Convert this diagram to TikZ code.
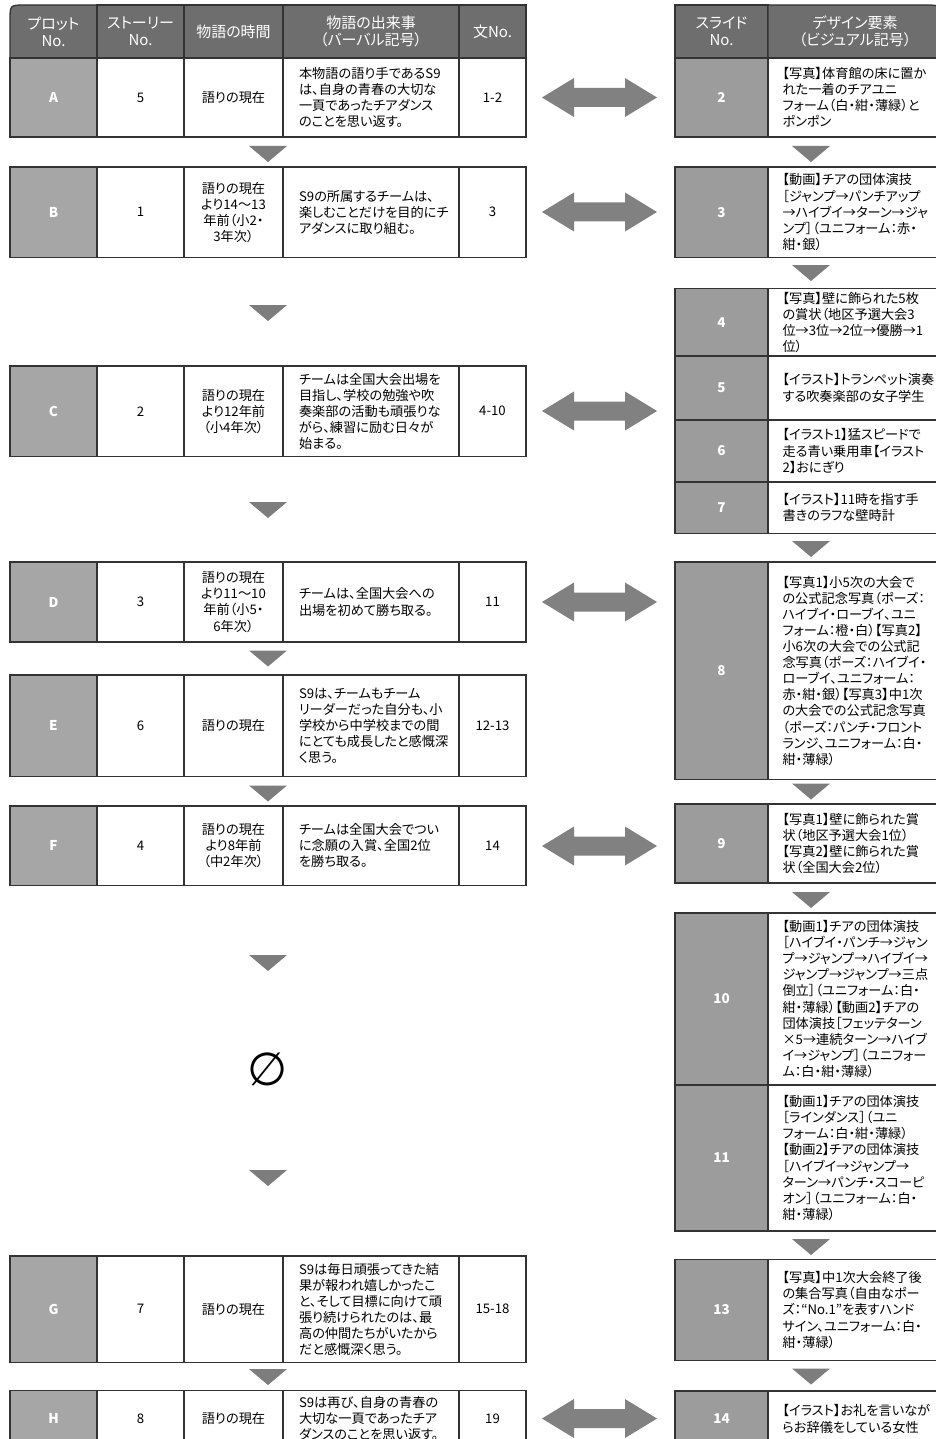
\documentclass[tikz,border=0pt]{standalone}
\usepackage{fontspec}
\setmainfont{Noto Sans CJK JP}[RawFeature=+palt]
\newfontfamily\symfont{DejaVu Sans}
\usetikzlibrary{calc}
\definecolor{hdr}{HTML}{6E6E6E}
\definecolor{plotc}{HTML}{A6A6A6}
\definecolor{slidec}{HTML}{9C9C9C}
\definecolor{tric}{HTML}{7D7D7D}
\definecolor{arrc}{HTML}{818181}
\definecolor{bord}{HTML}{333333}
\tikzset{
  cellbase/.style={draw=bord, line width=1.3pt, inner sep=0pt, outer sep=0pt, font=\fontsize{13.2}{16.1}\selectfont},
  hdrtext/.style={text=white, align=center, inner sep=0pt, font=\fontsize{15}{17}\selectfont},
  hdrcell/.style={cellbase, fill=hdr, hdrtext},
  hdrcorner/.style={fill=hdr, draw=bord, line width=1.3pt},
  plotcell/.style={cellbase, fill=plotc, text=white, font=\fontsize{13.5}{16}\selectfont\bfseries},
  slidecell/.style={cellbase, fill=slidec, text=white, font=\fontsize{13.5}{16}\selectfont\bfseries},
  txtcell/.style={cellbase, fill=white, align=center},
  evcell/.style={cellbase, fill=white, text width=144pt, align=left},
  dcell/.style={cellbase, fill=white, text width=143pt, align=left},
  tri/.style={fill=tric},
  dblarrow/.style={fill=arrc},
}
\newcommand\cellbox[7]{\node[#6, minimum width={#4pt-#2pt}, minimum height={#5pt-#3pt}] (#1) at ({(#2+#4)/2},{(#3+#5)/2}) {#7};}
\newcommand\leftrow[8]{%
  \cellbox{#1p}{10}{#2}{97}{#3}{plotcell}{#4}
  \cellbox{#1s}{97}{#2}{184}{#3}{txtcell}{#5}
  \cellbox{#1t}{184}{#2}{283}{#3}{txtcell}{#6}
  \cellbox{#1e}{283}{#2}{459}{#3}{evcell}{#7}
  \cellbox{#1n}{459}{#2}{526}{#3}{txtcell}{#8}}
\newcommand\rightrow[5]{%
  \cellbox{#1n}{675}{#2}{768}{#3}{slidecell}{#4}
  \cellbox{#1d}{768}{#2}{940}{#3}{dcell}{#5}}
\newcommand\downtri[3]{\coordinate (#1) at (#2,#3); \fill[tri] (#1) ++(-19,0) -- ++(38,0) -- ++(-19,16) -- cycle;}
\newcommand\lrarrow[3]{\coordinate (#1) at (#2,#3); \fill[dblarrow] (#1) ++(-57.5,0) -- ++(32,-19.5) -- ++(0,10) -- ++(51,0) -- ++(0,-10) -- ++(32,19.5) -- ++(-32,19.5) -- ++(0,-10) -- ++(-51,0) -- ++(0,10) -- cycle;}
\begin{document}
\begin{tikzpicture}[x=1pt,y=-1pt]
\fill[white] (0,0) rectangle (936,1439);
\useasboundingbox (0,0) rectangle (936,1439);
% left header
\filldraw[hdrcorner] (97,58) -- (10,58) -- (10,20) .. controls (10,5) .. (25,5) -- (97,5) -- cycle;
\node[hdrtext] (h1) at (53.5,31.5) {プロット\\No.};
\cellbox{h2}{97}{5}{184}{58}{hdrcell}{ストーリー\\No.}
\cellbox{h3}{184}{5}{283}{58}{hdrcell}{物語の時間}
\cellbox{h4}{283}{5}{459}{58}{hdrcell}{物語の出来事\\（バーバル記号）}
\cellbox{h5}{459}{5}{526}{58}{hdrcell}{文No.}
% right header
\cellbox{r1}{675}{5}{768}{58}{hdrcell}{スライド\\No.}
\filldraw[hdrcorner] (768,58) -- (768,5) -- (925,5) .. controls (940,5) .. (940,20) -- (940,58) -- cycle;
\node[hdrtext] (r2) at (855,31.5) {デザイン要素\\（ビジュアル記号）};
% left rows
\leftrow{A}{58}{137}{A}{5}{語りの現在}{本物語の語り手であるS9\\は、自身の青春の大切な\\一頁であったチアダンス\\のことを思い返す。}{1-2}
\leftrow{B}{167}{257.5}{B}{1}{語りの現在\\より14〜13\\年前（小2・\\3年次）}{S9の所属するチームは、\\楽しむことだけを目的にチ\\アダンスに取り組む。}{3}
\leftrow{C}{366}{456.5}{C}{2}{語りの現在\\より12年前\\（小4年次）}{チームは全国大会出場を\\目指し、学校の勉強や吹\\奏楽部の活動も頑張りな\\がら、練習に励む日々が\\始まる。}{4-10}
\leftrow{D}{562}{642}{D}{3}{語りの現在\\より11〜10\\年前（小5・\\6年次）}{チームは、全国大会への\\出場を初めて勝ち取る。}{11}
\leftrow{E}{675}{776.5}{E}{6}{語りの現在}{S9は、チームもチーム\\リーダーだった自分も、小\\学校から中学校までの間\\にとても成長したと感慨深\\く思う。}{12-13}
\leftrow{F}{806}{885.5}{F}{4}{語りの現在\\より8年前\\（中2年次）}{チームは全国大会でつい\\に念願の入賞、全国2位\\を勝ち取る。}{14}
\leftrow{G}{1256}{1362.5}{G}{7}{語りの現在}{S9は毎日頑張ってきた結\\果が報われ嬉しかったこ\\と、そして目標に向けて頑\\張り続けられたのは、最\\高の仲間たちがいたから\\だと感慨深く思う。}{15-18}
\leftrow{H}{1390.5}{1447}{H}{8}{語りの現在}{S9は再び、自身の青春の\\大切な一頁であったチア\\ダンスのことを思い返す。}{19}
\node[font=\symfont\fontsize{46}{46}\selectfont] (empty) at (268,1069) {∅};
% right rows
\rightrow{S2}{58}{137}{2}{【写真】体育館の床に置か\\れた一着のチアユニ\\フォーム（白・紺・薄緑）と\\ポンポン}
\rightrow{S3}{167}{257.5}{3}{【動画】チアの団体演技\\［ジャンプ→パンチアップ\\→ハイブイ→ターン→ジャ\\ンプ］（ユニフォーム：赤・\\紺・銀）}
\rightrow{S4}{288.5}{356}{4}{【写真】壁に飾られた5枚\\の賞状（地区予選大会3\\位→3位→2位→優勝→1\\位）}
\rightrow{S5}{356}{420}{5}{【イラスト】トランペット演奏\\する吹奏楽部の女子学生}
\rightrow{S6}{420}{482}{6}{【イラスト1】猛スピードで\\走る青い乗用車【イラスト\\2】おにぎり}
\rightrow{S7}{482}{533.5}{7}{【イラスト】11時を指す手\\書きのラフな壁時計}
\rightrow{S8}{562}{779.5}{8}{【写真1】小5次の大会で\\の公式記念写真（ポーズ：\\ハイブイ・ローブイ、ユニ\\フォーム：橙・白）【写真2】\\小6次の大会での公式記\\念写真（ポーズ：ハイブイ・\\ローブイ、ユニフォーム：\\赤・紺・銀）【写真3】中1次\\の大会での公式記念写真\\（ポーズ：パンチ・フロント\\ランジ、ユニフォーム：白・\\紺・薄緑）}
\rightrow{S9}{804}{883}{9}{【写真1】壁に飾られた賞\\状（地区予選大会1位）\\【写真2】壁に飾られた賞\\状（全国大会2位）}
\rightrow{S10}{913}{1085}{10}{【動画1】チアの団体演技\\［ハイブイ・パンチ→ジャン\\プ→ジャンプ→ハイブイ→\\ジャンプ→ジャンプ→三点\\倒立］（ユニフォーム：白・\\紺・薄緑）【動画2】チアの\\団体演技［フェッテターン\\×5→連続ターン→ハイブ\\イ→ジャンプ］（ユニフォー\\ム：白・紺・薄緑）}
\rightrow{S11}{1085}{1231}{11}{【動画1】チアの団体演技\\［ラインダンス］（ユニ\\フォーム：白・紺・薄緑）\\【動画2】チアの団体演技\\［ハイブイ→ジャンプ→\\ターン→パンチ・スコーピ\\オン］（ユニフォーム：白・\\紺・薄緑）}
\rightrow{S13}{1259.5}{1360.5}{13}{【写真】中1次大会終了後\\の集合写真（自由なポー\\ズ：“No.1”を表すハンド\\サイン、ユニフォーム：白・\\紺・薄緑）}
\rightrow{S14}{1391}{1447}{14}{【イラスト】お礼を言いなが\\らお辞儀をしている女性}
% left triangles
\downtri{tAB}{268}{146}
\downtri{tBC}{268}{305}
\downtri{tCD}{268}{502}
\downtri{tDE}{268}{650.5}
\downtri{tEF}{268}{785.5}
\downtri{tFx}{268}{955}
\downtri{txG}{268}{1170}
\downtri{tGH}{268}{1369}
% right triangles
\downtri{t23}{811}{146}
\downtri{t34}{811}{265}
\downtri{t78}{811}{541}
\downtri{t89}{811}{783.5}
\downtri{t910}{811}{892}
\downtri{t1113}{811}{1239}
\downtri{t1314}{811}{1368.5}
% double arrows
\lrarrow{aA}{599.5}{97.5}
\lrarrow{aB}{599.5}{212}
\lrarrow{aC}{599.5}{411}
\lrarrow{aD}{599.5}{602}
\lrarrow{aF}{599.5}{846}
\lrarrow{aH}{599.5}{1418.5}
\end{tikzpicture}
\end{document}
